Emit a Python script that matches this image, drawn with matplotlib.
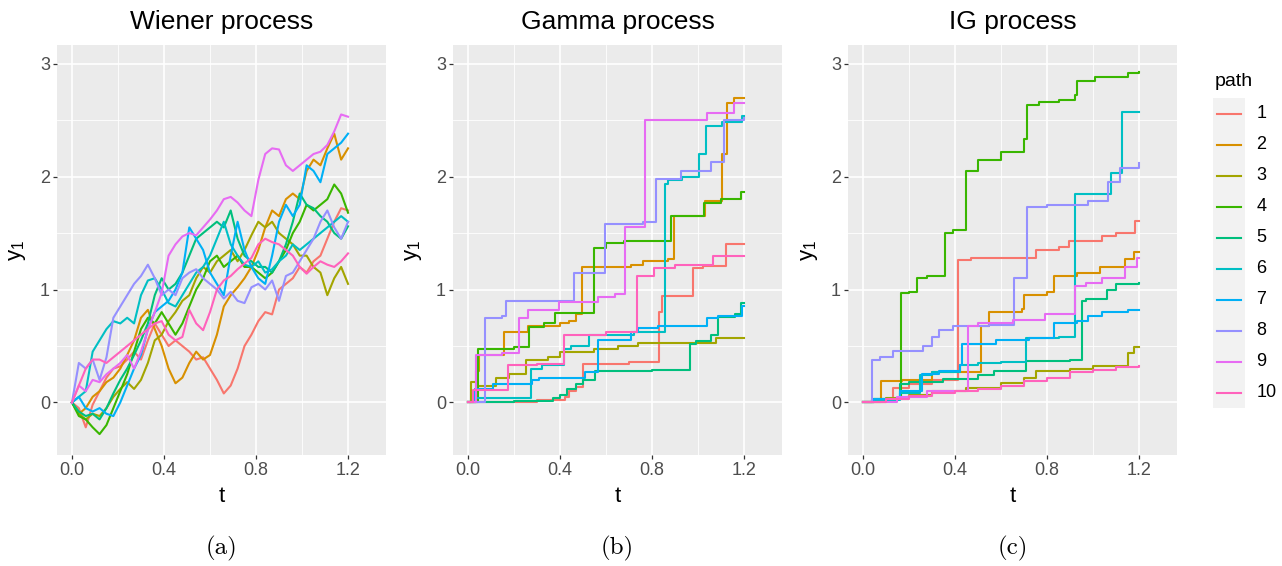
import matplotlib
matplotlib.use('Agg')
import matplotlib.pyplot as plt

plt.rcParams['font.family'] = ['Liberation Sans', 'DejaVu Sans']
plt.rcParams['mathtext.fontset'] = 'custom'
plt.rcParams['mathtext.rm'] = 'Liberation Sans'

# ggplot hue palette for 10 paths
path_labels = ['1', '2', '3', '4', '5', '6', '7', '8', '9', '10']
colors = ['#F8766D', '#D89000', '#A3A500', '#39B600', '#00BF7D',
          '#00BFC4', '#00B0F6', '#9590FF', '#E76BF3', '#FF62BC']

# Wiener process: common time grid, one value list per path
wiener_t = [0.00, 0.03, 0.06, 0.09, 0.12, 0.15, 0.18, 0.21, 0.24, 0.27,
            0.30, 0.33, 0.36, 0.39, 0.42, 0.45, 0.48, 0.51, 0.54, 0.57,
            0.60, 0.63, 0.66, 0.69, 0.72, 0.75, 0.78, 0.81, 0.84, 0.87,
            0.90, 0.93, 0.96, 0.99, 1.02, 1.05, 1.08, 1.11, 1.14, 1.17, 1.20]
wiener_y = [
    [0, -.05, -.22, -.02, .1, .22, .3, .32, .38, .45, .38, .55, .7, .6, .5, .55, .5, .45, .38, .4,
     .3, .2, .08, .15, .3, .5, .6, .72, .8, .78, 1.0, 1.05, 1.1, 1.2, 1.15, 1.25, 1.3, 1.45, 1.6, 1.72, 1.7],
    [0, -.1, -.05, .05, .1, .18, .22, .3, .42, .55, .75, .82, .65, .5, .3, .17, .22, .35, .45, .38,
     .42, .6, .85, .95, 1.02, 1.1, 1.2, 1.35, 1.55, 1.7, 1.65, 1.8, 1.85, 1.8, 2.05, 2.15, 2.1, 2.25, 2.38, 2.15, 2.25],
    [0, -.1, -.15, -.1, -.12, -.05, .05, .12, .18, .12, .2, .35, .55, .6, .72, .8, .9, .95, 1.1, 1.2,
     1.15, 1.25, 1.3, 1.35, 1.25, 1.35, 1.48, 1.6, 1.55, 1.6, 1.5, 1.45, 1.4, 1.3, 1.3, 1.2, 1.15, .95, 1.1, 1.2, 1.05],
    [0, -.12, -.15, -.22, -.28, -.2, -.05, .1, .25, .45, .65, .75, .7, .8, .7, .6, .7, .85, 1.0, 1.1,
     1.25, 1.3, 1.2, 1.25, 1.3, 1.2, 1.2, 1.15, 1.1, 1.15, 1.25, 1.35, 1.5, 1.6, 1.75, 1.7, 1.75, 1.8, 1.93, 1.85, 1.68],
    [0, -.08, -.12, -.1, -.15, -.05, .08, .2, .3, .42, .55, .7, .95, 1.1, 1.0, 1.05, 1.15, 1.3, 1.45, 1.5,
     1.55, 1.6, 1.55, 1.7, 1.45, 1.3, 1.25, 1.2, 1.2, 1.15, 1.25, 1.4, 1.6, 1.85, 1.75, 1.72, 1.65, 1.6, 1.5, 1.45, 1.56],
    [0, .05, .1, .45, .55, .65, .72, .7, .75, .7, .95, 1.08, 1.1, 1.0, .88, .85, .95, 1.05, 1.15, 1.2,
     1.3, 1.45, 1.6, 1.4, 1.3, 1.22, 1.2, 1.25, 1.15, 1.18, 1.25, 1.3, 1.4, 1.35, 1.4, 1.45, 1.5, 1.55, 1.6, 1.65, 1.6],
    [0, .05, -.05, -.08, -.05, -.1, -.12, 0.0, .15, .3, .42, .65, .8, .85, .9, 1.0, 1.15, 1.55, 1.45, 1.35,
     1.15, 1.05, .95, 1.3, 1.6, 1.35, 1.2, 1.1, 1.05, 1.3, 1.6, 1.75, 1.65, 1.75, 2.1, 2.05, 1.95, 2.2, 2.25, 2.3, 2.38],
    [0, .35, .3, .38, .2, .4, .75, .85, .95, 1.05, 1.12, 1.22, 1.1, .95, 1.0, .95, 1.1, 1.15, 1.18, 1.1,
     1.05, 1.0, .92, .98, .9, .88, 1.02, 1.05, 1.0, 1.08, .9, 1.12, 1.15, 1.25, 1.35, 1.45, 1.6, 1.7, 1.55, 1.45, 1.6],
    [0, .15, .1, .2, .18, .25, .3, .35, .42, .3, .45, .64, .8, .97, 1.3, 1.4, 1.47, 1.5, 1.48, 1.55,
     1.62, 1.7, 1.8, 1.82, 1.77, 1.7, 1.65, 1.97, 2.2, 2.25, 2.24, 2.1, 2.05, 2.1, 2.15, 2.2, 2.22, 2.28, 2.4, 2.55, 2.53],
    [0, .15, .3, .38, .38, .35, .4, .45, .5, .55, .6, .65, .7, .72, .6, .55, .58, .82, .7, .64,
     .8, 1.0, 1.08, 1.12, 1.18, 1.23, 1.28, 1.4, 1.45, 1.42, 1.4, 1.35, 1.3, 1.2, 1.14, 1.2, 1.25, 1.22, 1.2, 1.25, 1.32],
]

# Gamma process: jump times and levels per path
gamma_t = [
    [0, 0.30, 0.42, 0.44, 0.47, 0.50, 0.70, 0.83, 0.845, 0.977, 1.02, 1.121, 1.2],
    [0, 0.035, 0.05, 0.158, 0.26, 0.40, 0.44, 0.47, 0.496, 0.71, 0.76, 0.87, 0.895, 1.03, 1.106, 1.128, 1.157, 1.2],
    [0, 0.014, 0.04, 0.122, 0.18, 0.252, 0.35, 0.40, 0.55, 0.65, 0.74, 1.08, 1.2],
    [0, 0.043, 0.20, 0.266, 0.33, 0.38, 0.546, 0.60, 0.68, 0.884, 1.027, 1.10, 1.185, 1.2],
    [0, 0.20, 0.37, 0.40, 0.43, 0.47, 0.50, 0.553, 0.80, 0.963, 0.99, 1.056, 1.085, 1.16, 1.185, 1.2],
    [0, 0.035, 0.273, 0.32, 0.417, 0.45, 0.524, 0.72, 0.855, 0.87, 0.93, 1.006, 1.034, 1.106, 1.19, 1.2],
    [0, 0.03, 0.108, 0.28, 0.31, 0.51, 0.567, 0.71, 0.74, 0.826, 1.04, 1.085, 1.19, 1.2],
    [0, 0.072, 0.15, 0.165, 0.46, 0.596, 0.76, 0.819, 0.927, 1.056, 1.113, 1.2],
    [0, 0.036, 0.15, 0.22, 0.26, 0.395, 0.567, 0.64, 0.682, 0.769, 1.04, 1.157, 1.2],
    [0, 0.022, 0.172, 0.30, 0.417, 0.60, 0.733, 0.81, 0.90, 1.063, 1.2],
]
gamma_y = [
    [0, 0.02, 0.05, 0.10, 0.14, 0.34, 0.36, 0.80, 0.94, 1.19, 1.21, 1.40, 1.40],
    [0, 0.28, 0.42, 0.62, 0.68, 0.70, 0.72, 0.78, 1.20, 1.22, 1.25, 1.27, 1.65, 1.78, 2.20, 2.65, 2.70, 2.70],
    [0, 0.18, 0.15, 0.22, 0.25, 0.38, 0.40, 0.45, 0.47, 0.50, 0.53, 0.57, 0.57],
    [0, 0.47, 0.49, 0.67, 0.70, 0.79, 1.37, 1.41, 1.43, 1.65, 1.77, 1.80, 1.86, 1.86],
    [0, 0.01, 0.04, 0.07, 0.12, 0.16, 0.20, 0.28, 0.29, 0.52, 0.54, 0.60, 0.76, 0.78, 0.88, 0.88],
    [0, 0.04, 0.30, 0.33, 0.47, 0.50, 0.60, 0.62, 1.93, 1.97, 2.00, 2.20, 2.45, 2.48, 2.54, 2.54],
    [0, 0.12, 0.16, 0.20, 0.22, 0.27, 0.55, 0.62, 0.66, 0.68, 0.75, 0.77, 0.85, 0.85],
    [0, 0.75, 0.77, 0.90, 1.15, 1.58, 1.60, 1.98, 2.05, 2.13, 2.50, 2.52],
    [0, 0.42, 0.44, 0.75, 0.82, 0.89, 0.93, 0.96, 1.55, 2.50, 2.56, 2.65, 2.65],
    [0, 0.11, 0.33, 0.34, 0.60, 0.62, 1.12, 1.19, 1.22, 1.30, 1.30],
]

# IG process: jump times and levels per path
ig_t = [
    [0, 0.05, 0.13, 0.20, 0.30, 0.415, 0.47, 0.75, 0.85, 0.894, 1.037, 1.10, 1.181, 1.2],
    [0, 0.078, 0.17, 0.30, 0.513, 0.549, 0.69, 0.70, 0.80, 0.829, 0.93, 1.03, 1.138, 1.18, 1.2],
    [0, 0.10, 0.20, 0.30, 0.45, 0.60, 0.70, 0.75, 0.90, 1.00, 1.152, 1.18, 1.2],
    [0, 0.04, 0.164, 0.20, 0.233, 0.28, 0.355, 0.39, 0.448, 0.50, 0.60, 0.70, 0.715, 0.764, 0.85, 0.92, 0.93, 1.01, 1.15, 1.2],
    [0, 0.05, 0.16, 0.20, 0.35, 0.50, 0.57, 0.71, 0.90, 0.951, 0.97, 1.06, 1.102, 1.2],
    [0, 0.05, 0.16, 0.247, 0.30, 0.42, 0.50, 0.60, 0.707, 0.85, 0.922, 1.08, 1.124, 1.2],
    [0, 0.05, 0.16, 0.255, 0.33, 0.42, 0.43, 0.58, 0.72, 0.83, 0.93, 0.98, 1.04, 1.15, 1.2],
    [0, 0.04, 0.075, 0.13, 0.26, 0.30, 0.33, 0.39, 0.55, 0.657, 0.714, 0.80, 0.98, 1.066, 1.116, 1.2],
    [0, 0.15, 0.28, 0.455, 0.50, 0.65, 0.79, 0.922, 0.97, 1.037, 1.138, 1.19, 1.2],
    [0, 0.1, 0.2, 0.3, 0.4, 0.5, 0.6, 0.7, 0.8, 0.9, 1.0, 1.1, 1.2],
]
ig_y = [
    [0, 0.02, 0.13, 0.16, 0.20, 1.26, 1.28, 1.35, 1.38, 1.43, 1.47, 1.50, 1.61, 1.61],
    [0, 0.19, 0.20, 0.27, 0.68, 0.80, 0.83, 0.95, 0.98, 1.12, 1.15, 1.20, 1.27, 1.33, 1.33],
    [0, 0.04, 0.07, 0.10, 0.13, 0.17, 0.22, 0.28, 0.30, 0.32, 0.44, 0.49, 0.49],
    [0, 0.03, 0.97, 0.98, 1.10, 1.12, 1.50, 1.53, 2.05, 2.15, 2.22, 2.33, 2.63, 2.66, 2.68, 2.72, 2.85, 2.88, 2.92, 2.93],
    [0, 0.03, 0.16, 0.18, 0.21, 0.24, 0.28, 0.37, 0.38, 0.90, 0.92, 1.00, 1.05, 1.06],
    [0, 0.02, 0.08, 0.24, 0.27, 0.33, 0.35, 0.36, 0.57, 0.58, 1.85, 2.03, 2.57, 2.57],
    [0, 0.03, 0.10, 0.25, 0.28, 0.33, 0.52, 0.55, 0.57, 0.70, 0.72, 0.77, 0.80, 0.82, 0.82],
    [0, 0.38, 0.40, 0.46, 0.50, 0.58, 0.64, 0.68, 0.69, 1.10, 1.73, 1.75, 1.78, 1.95, 2.08, 2.12],
    [0, 0.05, 0.10, 0.68, 0.70, 0.73, 0.78, 1.03, 1.06, 1.10, 1.20, 1.28, 1.28],
    [0, 0.03, 0.06, 0.08, 0.10, 0.12, 0.15, 0.19, 0.22, 0.27, 0.29, 0.31, 0.32],
]

titles = ['Wiener process', 'Gamma process', 'IG process']
captions = ['(a)', '(b)', '(c)']

W, H = 1282, 566
fig = plt.figure(figsize=(W / 100, H / 100), dpi=100)

panel_left = [57, 453, 848]
panel_w, panel_top, panel_bot = 329, 45, 455
lw = 1.5


def make_panel(x0):
    ax = fig.add_axes([x0 / W, 1 - panel_bot / H, panel_w / W, (panel_bot - panel_top) / H])
    ax.set_facecolor('#EBEBEB')
    ax.set_xlim(-0.065, 1.365)
    ax.set_ylim(-0.465, 3.165)
    ax.set_xticks([0, 0.4, 0.8, 1.2])
    ax.set_xticklabels(['0.0', '0.4', '0.8', '1.2'])
    ax.set_yticks([0, 1, 2, 3])
    ax.set_xticks([0.2, 0.6, 1.0], minor=True)
    ax.set_yticks([0.5, 1.5, 2.5], minor=True)
    ax.grid(which='major', color='white', lw=1.2)
    ax.grid(which='minor', color='white', lw=0.6)
    ax.set_axisbelow(True)
    for s in ax.spines.values():
        s.set_visible(False)
    ax.tick_params(which='major', length=3, width=0.9, color='#333333',
                   labelcolor='#4D4D4D', labelsize=13, pad=2)
    ax.tick_params(which='minor', length=0)
    return ax


axes = [make_panel(x) for x in panel_left]

for i in range(10):
    axes[0].plot(wiener_t, wiener_y[i], color=colors[i], lw=lw)
    axes[1].plot(gamma_t[i], gamma_y[i], color=colors[i], lw=lw, drawstyle='steps-post')
    axes[2].plot(ig_t[i], ig_y[i], color=colors[i], lw=lw, drawstyle='steps-post')

for k, x0 in enumerate(panel_left):
    cx = (x0 + panel_w / 2) / W
    fig.text(cx, 1 - 22 / H, titles[k], fontsize=19, ha='center', va='center')
    fig.text(cx, 1 - 497 / H, 't', fontsize=16, ha='center', va='center')
    fig.text((x0 - 39) / W, 1 - 250 / H, r'$\mathregular{y_1}$', fontsize=16,
             rotation=90, ha='center', va='center')
    fig.text(cx, 1 - 548 / H, captions[k], fontsize=18, ha='center', va='center',
             family='cmr10')

# legend
leg = fig.add_axes([1213 / W, 1 - 408 / H, 32 / W, 310 / H])
leg.set_facecolor('#F2F2F2')
leg.set_xlim(0, 1)
leg.set_ylim(10.5, 0.5)
leg.set_xticks([])
leg.set_yticks([])
for s in leg.spines.values():
    s.set_visible(False)
for i in range(10):
    leg.plot([0.11, 0.89], [i + 1, i + 1], color=colors[i], lw=lw)
    leg.text(1.35, i + 1, path_labels[i], fontsize=13, ha='left', va='center', clip_on=False)
fig.text(1215 / W, 1 - 82 / H, 'path', fontsize=14, ha='left', va='center')

fig.savefig('out.png', dpi=100)
